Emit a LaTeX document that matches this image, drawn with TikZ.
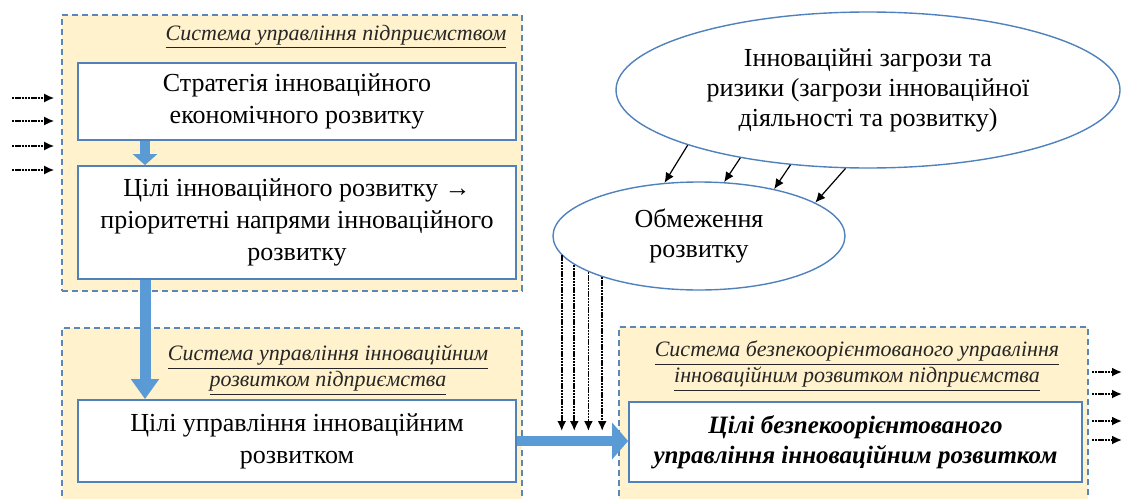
\documentclass[tikz,border=0pt]{standalone}
\usepackage{fontspec}
\setmainfont{Liberation Serif}
\usetikzlibrary{arrows.meta,shapes.geometric}
\definecolor{sysfill}{HTML}{FFF2CC}
\definecolor{sysline}{HTML}{5B87B8}
\definecolor{boxline}{HTML}{4F81BD}
\definecolor{flowblue}{HTML}{5B9BD5}

\begin{document}
\begin{tikzpicture}[x=.5pt, y=-.5pt, >={Latex[length=5pt,width=4.5pt]},
  sys/.style={rectangle, draw=sysline, fill=sysfill, line width=.8pt, dash pattern=on 3pt off 2pt},
  box/.style={rectangle, draw=boxline, fill=white, line width=.9pt, inner sep=0pt, align=center, font=\fontsize{13}{16}\selectfont},
  oval/.style={ellipse, draw=boxline, fill=white, line width=.7pt, inner sep=0pt, align=center, font=\fontsize{13}{15}\selectfont},
  title/.style={align=center, text=black!85, font=\fontsize{11}{13}\selectfont\itshape},
  feed/.style={->, line width=.9pt, dash pattern=on 1.2pt off .4pt},
  flow/.style={draw=flowblue, line width=5.5pt, -{Triangle[length=10pt,width=13.5pt]}}]
  \useasboundingbox (0,0) rectangle (1124,498);
  \clip (0,0) rectangle (1124,498);
  % containers
  \node[sys, minimum width=230pt, minimum height=138pt] (sys1) at (292,153) {};
  \node[sys, minimum width=230pt, minimum height=89pt] (sys2) at (292,417) {};
  \node[sys, minimum width=234.5pt, minimum height=89.5pt] (sys3) at (853.5,416.5) {};
  \node[title] (t1) at (336,37) {\underline{Система управління підприємством}};
  \node[title] (t2) at (328,370) {\underline{Система управління  інноваційним}\\
    \underline{розвитком підприємства}};
  \node[title] (t3) at (857,366) {\underline{Система безпекоорієнтованого управління}\\
    \underline{інноваційним розвитком підприємства}};
  % boxes
  \node[box, minimum width=219pt, minimum height=38.5pt] (strat) at (297,101.5)
    {Стратегія інноваційного\\економічного розвитку};
  \node[box, minimum width=219pt, minimum height=56.5pt] (goals) at (297,222.5)
    {Цілі інноваційного розвитку →\\пріоритетні напрями інноваційного\\розвитку};
  \node[box, minimum width=219pt, minimum height=41pt] (mgoals) at (297,441)
    {Цілі управління інноваційним\\розвитком};
  \node[box, minimum width=226.5pt, minimum height=40pt,
    font=\fontsize{12.5}{15}\selectfont\bfseries\itshape] (sgoals) at (855.5,442)
    {Цілі безпекоорієнтованого\\управління інноваційним розвитком};
  % ellipses
  \node[oval, minimum width=252pt, minimum height=78pt] (threat) at (868,90)
    {Інноваційні загрози та\\ризики (загрози інноваційної\\діяльності та розвитку)};
  \node[oval, minimum width=146pt, minimum height=54pt] (limit) at (699,236)
    {Обмеження\\розвитку};
  % blue arrows
  \coordinate (axis) at (145,0);
  \draw[flow, line width=5pt, -{Triangle[length=5.5pt,width=12pt]}] (strat.south -| axis) -- (goals.north -| axis);
  \draw[flow] (goals.south -| axis) -- (mgoals.north -| axis);
  \draw[flow, line width=5pt, -{Triangle[length=8pt,width=18pt]}] (mgoals.east) -- (mgoals.east -| sgoals.west);
  % threats and limits
  \foreach \a/\b in {197/123, 208/65, 224/32, 254/16}
    \draw[->, line width=.6pt] (threat.\a) -- (limit.\b);
  \coordinate (low) at (0,431);
  \foreach \a in {188,193,198,203}
    \draw[feed] (limit.\a) -- (limit.\a |- low);
  % inputs and outputs
  \foreach \y in {98,121,146,170} {
    \coordinate (in\y) at (12,\y);
    \draw[feed, shorten >=3.5pt] (in\y) -- (in\y -| sys1.west);
  }
  \foreach \y in {372,394,421,440} {
    \coordinate (out\y) at (1122,\y);
    \draw[feed, shorten <=1.5pt] (sys3.east |- out\y) -- (out\y);
  }
\end{tikzpicture}
\end{document}
